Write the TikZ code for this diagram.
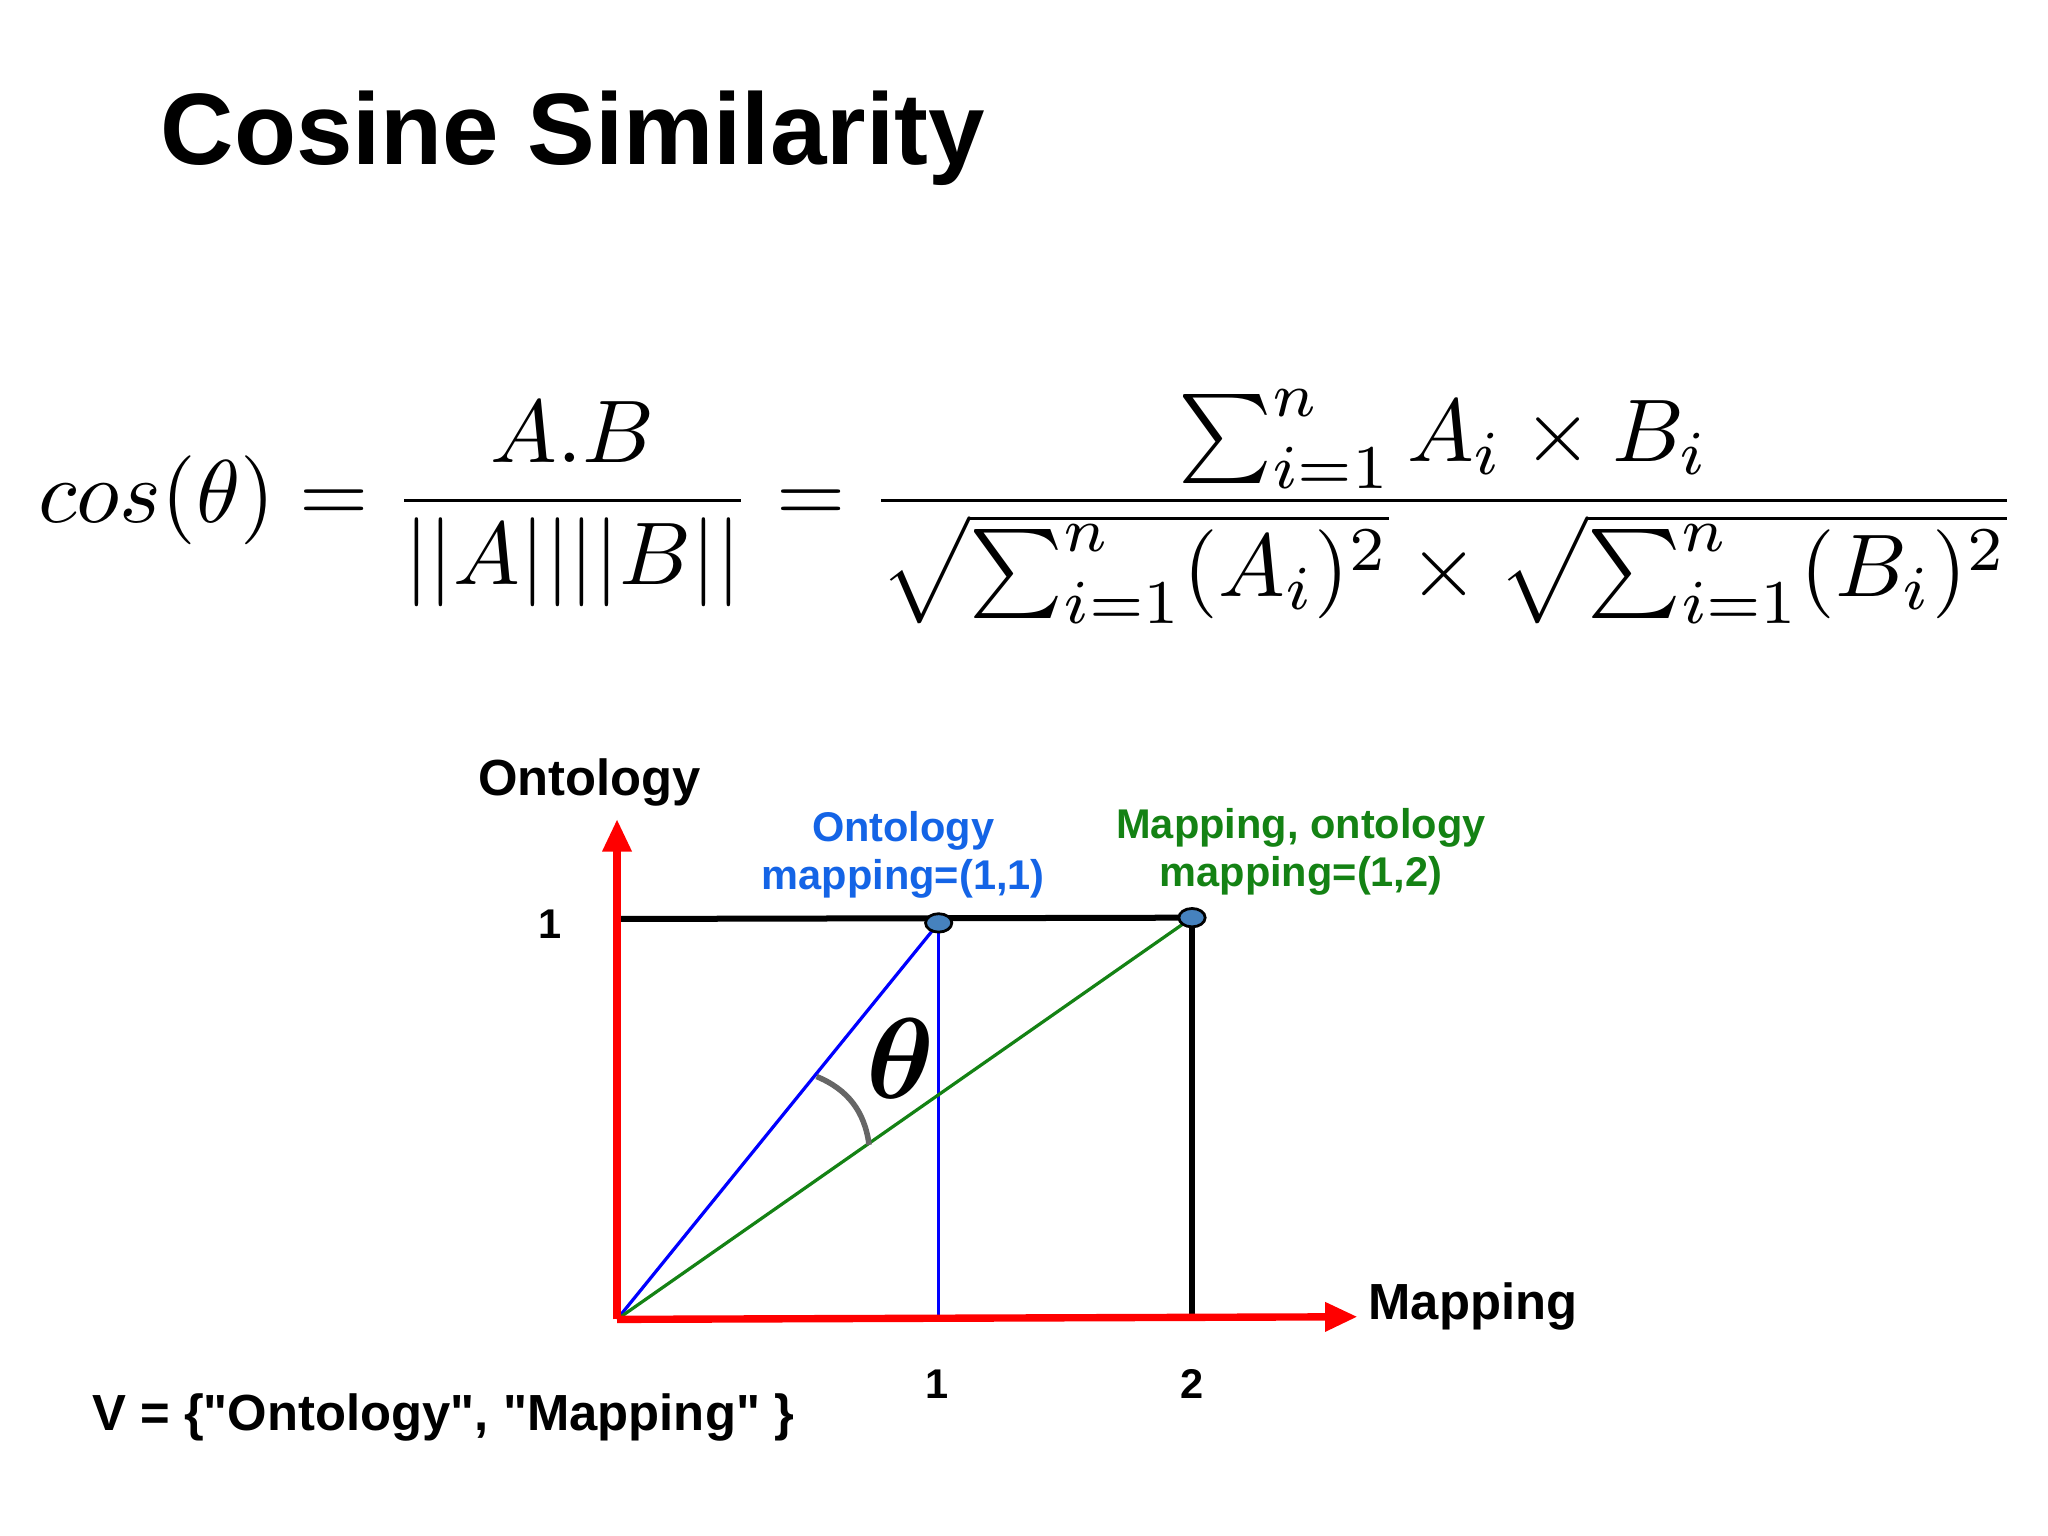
\documentclass[tikz,border=0pt]{standalone}
\usepackage{fontspec}
\usepackage{amsmath}
\setmainfont{Liberation Sans}
\newfontfamily\vfont[Ligatures=TeXOff]{Liberation Sans}
\usetikzlibrary{arrows.meta,shapes.geometric}
\definecolor{lblue}{RGB}{20,100,230}
\definecolor{dgreen}{RGB}{20,130,20}
\definecolor{ptfill}{RGB}{70,130,190}
\tikzset{
  lab/.style={font=\bfseries\fontsize{11}{13}\selectfont},
  tick/.style={font=\bfseries\fontsize{9}{10}\selectfont},
  small/.style={font=\bfseries\fontsize{9}{10.5}\selectfont, align=center},
  axis/.style={red, line width=1.6pt, -{Triangle[length=7pt,width=6pt]}},
  pt/.style={ellipse, draw=black, fill=ptfill, minimum width=0.2cm, minimum height=0.14cm, inner sep=0pt, line width=0.6pt}
}
\begin{document}
\begin{tikzpicture}[x=0.01cm,y=-0.01cm]
\useasboundingbox (0,0) rectangle (1560,1170);
\node[font=\bfseries\fontsize{22}{26}\selectfont, anchor=west] (title) at (110,105) {Cosine Similarity};
\node (formula) at (783,386) {\resizebox{15.07cm}{!}{$\displaystyle cos(\theta)=\frac{A.B}{||A||||B||}=\frac{\sum_{i=1}^{n}A_i\times B_i}{\sqrt{\sum_{i=1}^{n}(A_i)^2}\times\sqrt{\sum_{i=1}^{n}(B_i)^2}}$}};
\coordinate (O) at (470,1005);
\coordinate (ytop) at (470,624);
\coordinate (xend) at (1034,1003);
\coordinate (p1) at (715,703);
\coordinate (p2) at (908,699);
\coordinate (y1) at (470,700);
\coordinate (b1) at (715,1005);
\coordinate (b2) at (908,1003);
\draw[black, line width=1.3pt] (y1) -- (p2);
\draw[black, line width=1.3pt] (p2) -- (b2);
\draw[blue, line width=0.7pt] (p1) -- (b1);
\draw[blue, line width=0.7pt] (O) -- (p1);
\draw[dgreen, line width=0.7pt] (O) -- (p2);
\draw[axis] (O) -- (ytop);
\draw[axis] (O) -- (xend);
\draw[gray!80!black, line width=1.2pt] (622,820) to[bend left=30] (662,872);
\node[font=\fontsize{36}{36}\selectfont] (theta) at (686,806) {$\boldsymbol{\theta}$};
\node[pt] (n1) at (p1) {};
\node[pt] (n2) at (p2) {};
\node[lab] (ylab) at (449,596) {Ontology};
\node[lab] (xlab) at (1122,995) {Mapping};
\node[tick] (t1) at (419,704) {1};
\node[tick] (tx1) at (714,1054) {1};
\node[tick] (tx2) at (908,1054) {2};
\node[small, text=lblue] (l1) at (688,651) {Ontology\\mapping=(1,1)};
\node[small, text=dgreen] (l2) at (991,649) {Mapping, ontology\\mapping=(1,2)};
\node[lab, anchor=west, font=\vfont\bfseries\fontsize{11}{13}\selectfont] (v) at (58,1080) {V = \{"Ontology", "Mapping" \}};
\end{tikzpicture}
\end{document}
